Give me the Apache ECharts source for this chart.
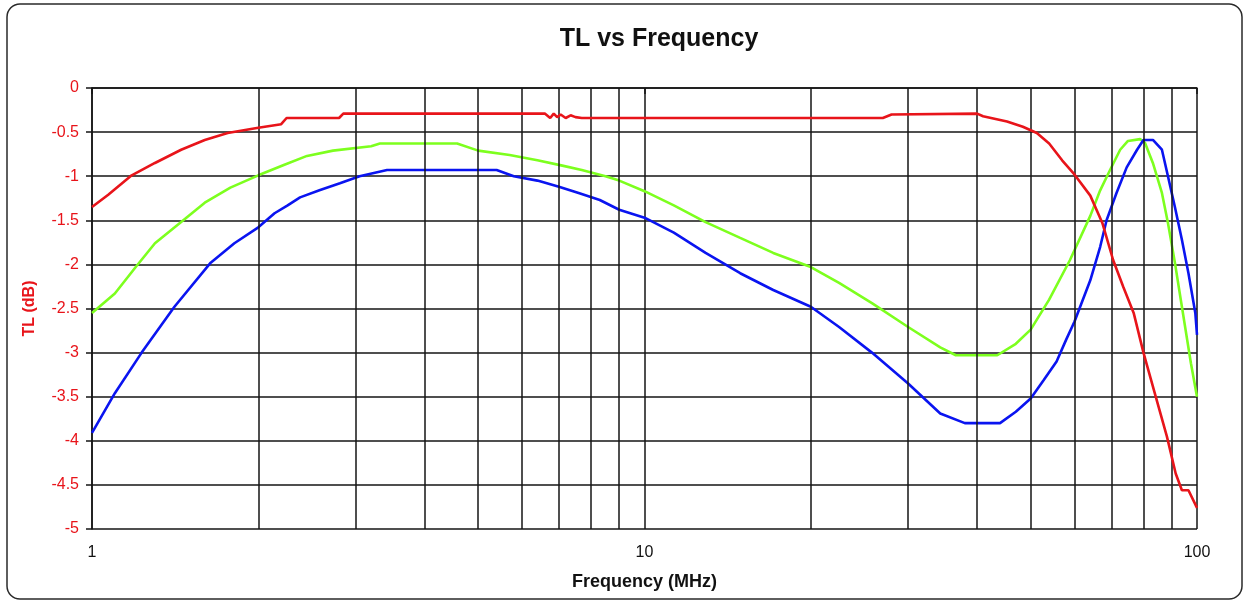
<!DOCTYPE html>
<html>
<head>
<meta charset="utf-8">
<script src="https://cdn.jsdelivr.net/npm/echarts@6/dist/echarts.min.js"></script>
<style>
html,body{margin:0;padding:0;background:#fff;}
#chart{width:1248px;height:602px;}
</style>
</head>
<body>
<div id="chart"></div>
<script>
// Frequencies (MHz) and transmission loss (dB)
const redFreq = [1, 1.07, 1.18, 1.3, 1.45, 1.6, 1.76, 2.0, 2.2, 2.25, 2.8, 2.85, 6.6, 6.75, 6.85, 6.95, 7.05, 7.2, 7.35, 7.5, 7.7, 10, 15, 20, 27, 28, 40, 41, 45.3, 48.4, 51.3, 54, 57, 60, 64.1, 67.4, 70.5, 73.5, 76.8, 80, 84.2, 88.2, 91.5, 93.9, 96.5, 100];
const redTL   = [-1.35, -1.21, -0.99, -0.85, -0.7, -0.59, -0.51, -0.45, -0.41, -0.34, -0.34, -0.29, -0.29, -0.34, -0.29, -0.33, -0.3, -0.34, -0.31, -0.33, -0.34, -0.34, -0.34, -0.34, -0.34, -0.3, -0.29, -0.32, -0.38, -0.44, -0.51, -0.63, -0.82, -0.98, -1.22, -1.53, -1.95, -2.25, -2.55, -3.0, -3.5, -3.95, -4.37, -4.56, -4.56, -4.76];

const greenFreq = [1, 1.1, 1.2, 1.3, 1.45, 1.6, 1.78, 2, 2.23, 2.45, 2.73, 3.2, 3.32, 4.58, 5.0, 5.7, 6.4, 7.1, 7.7, 8.5, 9, 10, 11.3, 12.9, 14.9, 17.1, 20, 22.5, 25.8, 30, 34.3, 36.6, 43.5, 47, 50, 54, 58.9, 64.1, 66.8, 69.6, 72.6, 75, 78.9, 80.5, 83.2, 86.4, 88.6, 91.2, 93.9, 97.5, 100];
const greenTL   = [-2.55, -2.33, -2.03, -1.76, -1.52, -1.3, -1.13, -0.99, -0.87, -0.77, -0.71, -0.66, -0.63, -0.63, -0.71, -0.76, -0.82, -0.88, -0.93, -1.0, -1.05, -1.17, -1.33, -1.52, -1.7, -1.87, -2.03, -2.21, -2.44, -2.71, -2.94, -3.03, -3.03, -2.9, -2.74, -2.4, -1.95, -1.45, -1.16, -0.93, -0.7, -0.6, -0.58, -0.62, -0.85, -1.19, -1.53, -1.98, -2.48, -3.12, -3.5];

const blueFreq = [1, 1.1, 1.23, 1.41, 1.64, 1.81, 2.0, 2.14, 2.26, 2.38, 2.58, 2.81, 3.05, 3.42, 5.4, 5.8, 6.4, 7.0, 7.6, 8.3, 9.0, 10, 11.3, 12.9, 14.9, 17.1, 20, 22.5, 25.8, 30, 34.3, 38, 44, 47, 50, 52.8, 55.7, 58, 60, 64.1, 66.8, 68.6, 71.5, 74.6, 77.9, 80, 83.3, 86.4, 88.6, 91.2, 93.9, 96.5, 99.3, 100];
const blueTL   = [-3.91, -3.46, -3.0, -2.48, -1.98, -1.76, -1.58, -1.42, -1.33, -1.24, -1.16, -1.08, -1.0, -0.93, -0.93, -1.0, -1.05, -1.12, -1.19, -1.27, -1.38, -1.47, -1.64, -1.87, -2.1, -2.29, -2.48, -2.71, -3.0, -3.35, -3.69, -3.8, -3.8, -3.67, -3.52, -3.31, -3.1, -2.85, -2.65, -2.18, -1.8, -1.5, -1.19, -0.9, -0.7, -0.59, -0.59, -0.7, -1.0, -1.35, -1.72, -2.1, -2.55, -2.8];

const minorGridFreq = [2, 3, 4, 5, 6, 7, 8, 9, 20, 30, 40, 50, 60, 70, 80, 90];

function pairs(xs, ys) { return xs.map((x, i) => [x, ys[i]]); }

const chart = echarts.init(document.getElementById('chart'));
const gridColor = '#151515';
const font = 'Liberation Sans, Arial, sans-serif';

chart.setOption({
  animation: false,
  backgroundColor: '#fff',
  graphic: [{
    type: 'rect',
    shape: { x: 7, y: 4, width: 1235, height: 595, r: 13 },
    style: { fill: 'none', stroke: '#2a2a2a', lineWidth: 1.5 },
    silent: true, z: 0
  }, {
    type: 'text',
    x: 659, y: 39,
    style: {
      text: 'TL vs Frequency',
      font: 'bold 25px Liberation Sans, Arial, sans-serif',
      fill: '#111',
      textAlign: 'center',
      textVerticalAlign: 'middle'
    },
    silent: true, z: 10
  }],
  grid: { left: 92, right: 51, top: 88, bottom: 73, containLabel: false },
  xAxis: {
    type: 'log',
    logBase: 10,
    min: 1,
    max: 100,
    name: 'Frequency (MHz)',
    nameLocation: 'middle',
    nameGap: 44,
    nameTextStyle: { fontFamily: font, fontWeight: 'bold', fontSize: 18, color: '#111' },
    axisLine: { show: true, lineStyle: { color: gridColor, width: 1.5 } },
    axisTick: { show: true, length: 6, lineStyle: { color: gridColor, width: 1.5 } },
    axisLabel: { fontFamily: font, fontSize: 16, color: '#111', margin: 16 },
    splitLine: { show: true, lineStyle: { color: gridColor, width: 1.5 } },
    minorTick: { show: false },
    minorSplitLine: { show: false }
  },
  yAxis: {
    type: 'value',
    min: -5,
    max: 0,
    interval: 0.5,
    name: 'TL (dB)',
    nameLocation: 'middle',
    nameGap: 54,
    nameTextStyle: { fontFamily: font, fontWeight: 'bold', fontSize: 16, color: '#e8141a' },
    axisLine: { show: true, lineStyle: { color: gridColor, width: 1.5 } },
    axisTick: { show: true, length: 6, lineStyle: { color: gridColor, width: 1.5 } },
    axisLabel: { fontFamily: font, fontSize: 16, color: '#e8141a', margin: 13 },
    splitLine: { show: true, lineStyle: { color: gridColor, width: 1.5 } }
  },
  series: [
    {
      type: 'line', data: [], z: 1, silent: true,
      markLine: {
        silent: true, symbol: 'none', animation: false,
        label: { show: false },
        lineStyle: { color: gridColor, type: 'solid', width: 1.5 },
        data: minorGridFreq.map(f => ({ xAxis: f }))
      }
    },
    {
      name: 'green', type: 'line', z: 3, showSymbol: false, symbol: 'none',
      data: pairs(greenFreq, greenTL),
      lineStyle: { color: '#7dff1e', width: 2.6 }
    },
    {
      name: 'blue', type: 'line', z: 4, showSymbol: false, symbol: 'none',
      data: pairs(blueFreq, blueTL),
      lineStyle: { color: '#0a14f0', width: 2.6 }
    },
    {
      name: 'red', type: 'line', z: 5, showSymbol: false, symbol: 'none',
      data: pairs(redFreq, redTL),
      lineStyle: { color: '#e8141a', width: 2.6 }
    }
  ]
});
</script>
</body>
</html>
